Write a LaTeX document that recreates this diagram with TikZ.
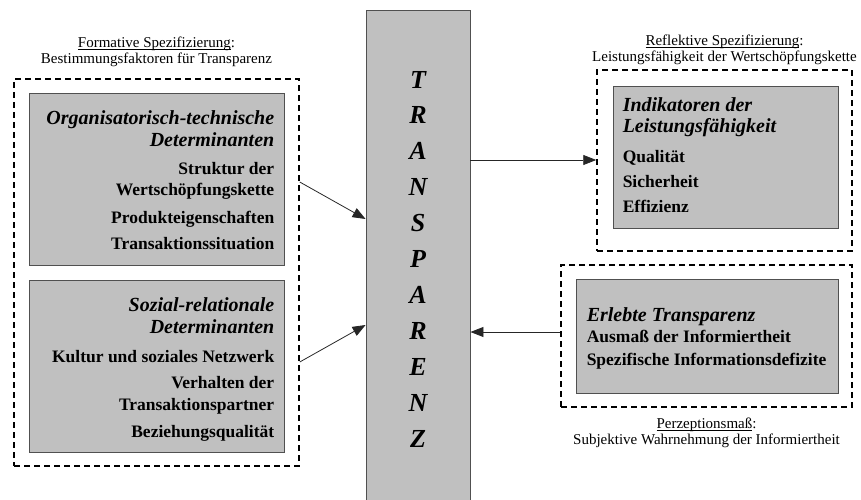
\documentclass[tikz,border=0pt]{standalone}
\usepackage{fontspec}
\setmainfont{Liberation Serif}
\usetikzlibrary{positioning,arrows.meta}

\definecolor{boxgrey}{HTML}{C0C0C0}
\definecolor{edgegrey}{HTML}{505050}
\newcommand{\hdfont}{\fontsize{20}{22}\selectfont\bfseries\itshape}
\newcommand{\capul}[1]{\underline{\smash{#1}}\vphantom{#1}}

\tikzset{
  greybox/.style={draw=edgegrey, fill=boxgrey, line width=0.9pt, inner sep=0pt},
  dashbox/.style={draw, line width=1.5pt, dash pattern=on 6pt off 4pt, inner sep=0pt},
  itemtext/.style={inner sep=0pt, font=\fontsize{17.5}{21}\selectfont\bfseries},
  caption/.style={inner sep=0pt, align=center, font=\fontsize{15}{16}\selectfont},
  flow/.style={-{Triangle[length=13pt,width=10pt]}, line width=0.8pt, draw=black!85},
}

\begin{document}
\begin{tikzpicture}[x=1pt,y=-1pt]
    \useasboundingbox (0,0) rectangle (861,500);

    % centre column
    \node[greybox, minimum width=104pt, minimum height=500pt, anchor=north] (transp) at (418,10) {};
    \node[anchor=north, inner sep=0pt, align=center, font=\fontsize{26}{35.9}\selectfont\bfseries\itshape] (word) at (418,70.8) {T\\R\\A\\N\\S\\P\\A\\R\\E\\N\\Z};

    % formative side
    \node[dashbox, minimum width=285pt, minimum height=387pt] (formdash) at (156.5,272.5) {};
    \node[greybox, minimum width=255pt, minimum height=172pt] (orgbox) at (156.5,179) {};
    \node[greybox, minimum width=255pt, minimum height=172pt] (sozbox) at (156.5,366) {};
    \node[itemtext, align=right, anchor=north east] (orgtext) at ([xshift=-10pt,yshift=-18pt]orgbox.north east) {{\hdfont Organisatorisch-technische}\\[1pt]{\hdfont Determinanten}\\[7pt]Struktur der\\Wertschöpfungskette\\[7pt]Produkteigenschaften\\[5pt]Transaktionssituation};
    \node[itemtext, align=right, anchor=north east] (soztext) at ([xshift=-10pt,yshift=-18pt]sozbox.north east) {{\hdfont Sozial-relationale}\\[1pt]{\hdfont Determinanten}\\[8pt]Kultur und soziales Netzwerk\\[5pt]Verhalten der\\[1pt]Transaktionspartner\\[6pt]Beziehungsqualität};
    \node[caption, above=11pt of formdash] (formcap) {\capul{Formative Spezifizierung}:\\Bestimmungsfaktoren für Transparenz};

    % reflective side
    \node[dashbox, minimum width=255pt, minimum height=181pt] (refldash) at (724.5,160.5) {};
    \node[greybox, minimum width=225pt, minimum height=142pt] (indbox) at (725.5,157) {};
    \node[itemtext, align=left, anchor=north west] (indtext) at ([xshift=10pt,yshift=-12pt]indbox.north west) {{\hdfont Indikatoren der}\\{\hdfont Leistungsfähigkeit}\\[9pt]Qualität\\[4pt]Sicherheit\\[4pt]Effizienz};
    \node[caption, above=4pt of refldash] (reflcap) {\capul{Reflektive Spezifizierung}:\\Leistungsfähigkeit der Wertschöpfungskette};

    % perception measure
    \node[dashbox, minimum width=291pt, minimum height=142pt] (perzdash) at (706.5,336) {};
    \node[greybox, minimum width=262pt, minimum height=114pt] (erlbox) at (707,336) {};
    \node[itemtext, align=left, anchor=north west] (erltext) at ([xshift=11pt,yshift=-29pt]erlbox.north west) {{\hdfont Erlebte Transparenz}\\Ausmaß der Informiertheit\\[2pt]Spezifische Informationsdefizite};
    \node[caption, below=10pt of perzdash] (perzcap) {\capul{Perzeptionsmaß}:\\Subjektive Wahrnehmung der Informiertheit};

    \draw[flow] (formdash.east |- 0,182) -- (transp.west |- 0,219);
    \draw[flow] (formdash.east |- 0,362) -- (transp.west |- 0,325);
    \draw[flow] (transp.east |- 0,160) -- (refldash.west |- 0,160);
    \draw[flow] (perzdash.west |- 0,332) -- (transp.east |- 0,332);
\end{tikzpicture}
\end{document}
